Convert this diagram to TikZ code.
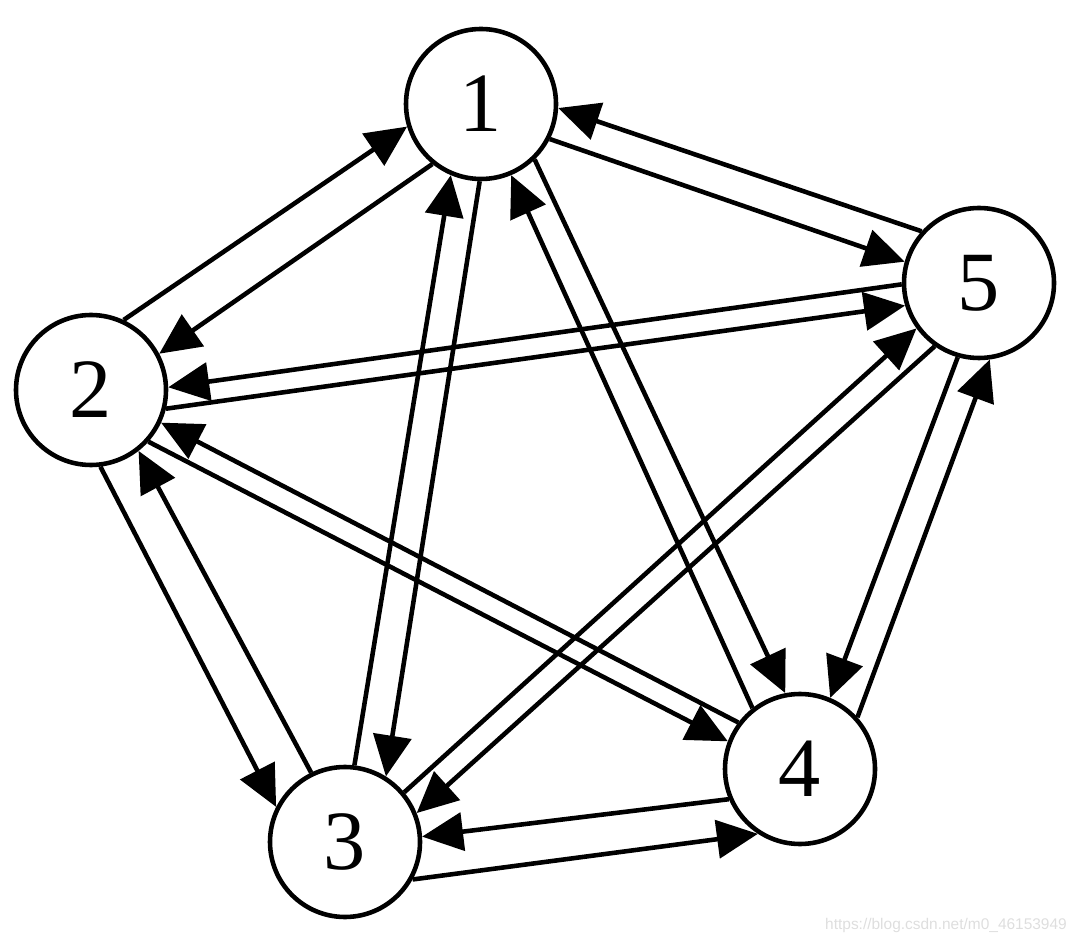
\documentclass[tikz,border=0pt]{standalone}
\usepackage{fontspec}
\setmainfont{Liberation Serif}
\newfontfamily\wmfont{Liberation Sans}
\usetikzlibrary{arrows.meta}

\begin{document}
\begin{tikzpicture}[line width=2.6pt, >={Triangle[length=8.2mm, width=7.6mm]}]
    \useasboundingbox (0,0) rectangle (21.6,18.76);
    % vertices
    \foreach \n/\x/\y in {1/9.62/16.68, 2/1.82/10.96, 3/6.90/1.92, 4/16.00/3.38, 5/19.58/13.10} {
      \node[draw, circle, minimum size=3cm, inner sep=0pt,
            font=\fontsize{48}{48}\selectfont] (n\n) at (\x,\y) {\n};
    }
    % arcs, one each way: from/angle/to/angle
    \foreach \a/\p/\b/\q in {2/65/1/197, 1/231/2/28,
                             3/83/1/247, 1/269/3/58,
                             4/128/1/293, 1/314/4/101,
                             1/333/5/164, 5/138/1/357,
                             2/277/3/153, 3/116/2/308,
                             2/318/4/159, 4/143/2/335,
                             2/346/5/197, 5/181/2/2,
                             3/331/4/237, 4/203/3/4,
                             3/40/5/216, 5/235/3/22,
                             4/42/5/278, 5/254/4/67} {
      \draw[->] (n\a.\p) -- (n\b.\q);
    }
    \node[font=\wmfont\fontsize{8.8}{8.8}\selectfont, text=black!13] (wm) at (18.92,0.26) {https://blog.csdn.net/m0\_46153949};
  \end{tikzpicture}
\end{document}
